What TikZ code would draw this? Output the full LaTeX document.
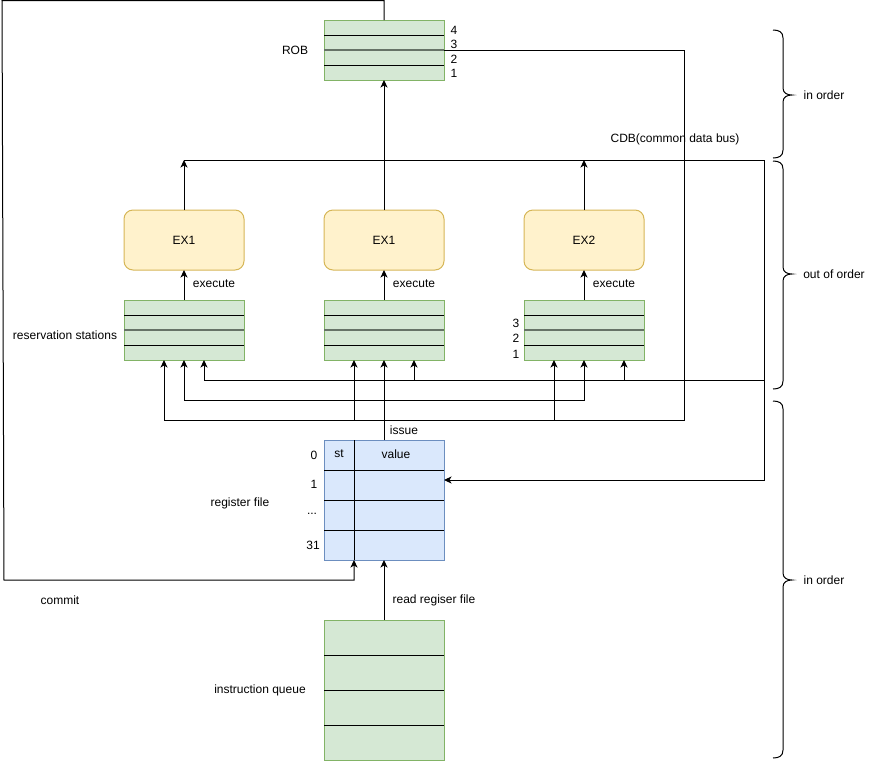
\documentclass[tikz,border=0pt]{standalone}
\usepackage{fontspec}
\setmainfont{Liberation Sans}
\usetikzlibrary{arrows.meta}

\definecolor{qfill}{HTML}{D5E8D4}
\definecolor{qline}{HTML}{82B366}
\definecolor{ufill}{HTML}{FFF2CC}
\definecolor{uline}{HTML}{D6B656}
\definecolor{rfill}{HTML}{DAE8FC}
\definecolor{rline}{HTML}{6C8EBF}
\definecolor{midline}{HTML}{667366}

% right-hand curly brace: top y, bottom y, tip y
\newcommand\sidebrace[3]{%
  \draw (773,#1) .. controls (779,#1) and (783,#1+2) .. (783,#1+8)
    -- (783,#3-7) .. controls (783,#3-2) and (787,#3) .. (792,#3)
    .. controls (787,#3) and (783,#3+2) .. (783,#3+7)
    -- (783,#2-8) .. controls (783,#2-2) and (779,#2) .. (773,#2);}

\tikzset{
  lbl/.style={font=\fontsize{12}{14}\selectfont, inner sep=0pt},
  queue/.style={draw=qline, fill=qfill, minimum width=120, minimum height=60,
    inner sep=0pt, outer sep=0pt},
  unit/.style={draw=uline, fill=ufill, rounded corners=9pt, minimum width=120,
    minimum height=60, inner sep=0pt, outer sep=0pt,
    font=\fontsize{12}{14}\selectfont},
  regbox/.style={draw=rline, fill=rfill, minimum width=120, minimum height=120,
    inner sep=0pt, outer sep=0pt},
  divider/.style={line width=1pt, black},
  middiv/.style={line width=2pt, midline},
  arr/.style={-{Stealth[length=7.5pt,width=7pt,inset=2pt]}},
}

\begin{document}
\begin{tikzpicture}[x=1pt,y=-1pt,line width=1pt]
\useasboundingbox (0,0) rectangle (875,761);

% ---- boxes ----
\node[queue] (rob) at (384,50) {};
\node[unit] (exa) at (184,240) {EX1};
\node[unit] (exb) at (384,240) {EX1};
\node[unit] (exc) at (584,240) {EX2};
\node[queue] (rsa) at (184,330) {};
\node[queue] (rsb) at (384,330) {};
\node[queue] (rsc) at (584,330) {};
\node[regbox] (reg) at (384,500) {};
\node[queue, minimum height=140] (iq) at (384,690) {};

% ---- row dividers ----
\draw[divider] (324,35) -- (444,35);
\draw[divider] (324,65) -- (444,65);
\draw[middiv] (324,50) -- (444,50);
\foreach \x in {124,324,524}{
  \draw[divider] (\x,315) -- ++(120,0);
  \draw[divider] (\x,345) -- ++(120,0);
  \draw[middiv] (\x,330) -- ++(120,0);
}
\foreach \y in {470,500,530} \draw[divider] (324,\y) -- (444,\y);
\draw[divider] (354,440) -- (354,560);
\foreach \y in {655,690,725} \draw[divider] (324,\y) -- (444,\y);

% ---- labels ----
\node[lbl] (lrob) at (295,50) {ROB};
\node[lbl] (lr4) at (454,30) {4};
\node[lbl] (lr3) at (454,44) {3};
\node[lbl] (lr2) at (454,59) {2};
\node[lbl] (lr1) at (454,73) {1};
\node[lbl] (lcdb) at (675,139) {CDB(common data bus)};
\node[lbl] (lexa) at (214,284) {execute};
\node[lbl] (lexb) at (414,284) {execute};
\node[lbl] (lexc) at (614,284) {execute};
\node[lbl] (lrs) at (65,335) {reservation stations};
\node[lbl] (ls3) at (516,323) {3};
\node[lbl] (ls2) at (516,338) {2};
\node[lbl] (ls1) at (516,354) {1};
\node[lbl] (lissue) at (404,430) {issue};
\node[lbl] (lst) at (339,454) {st};
\node[lbl] (lval) at (396,454) {value};
\node[lbl] (lg0) at (314,455) {0};
\node[lbl] (lg1) at (314,484) {1};
\node[lbl] (lgd) at (312,514) {...};
\node[lbl] (lg31) at (313,545) {31};
\node[lbl] (lreg) at (240,503) {register file};
\node[lbl] (lcommit) at (60,600) {commit};
\node[lbl] (lread) at (434,600) {read regiser file};
\node[lbl] (liq) at (260,690) {instruction queue};
\node[lbl] (lin1) at (824,95) {in order};
\node[lbl] (lout) at (834,274) {out of order};
\node[lbl] (lin2) at (824,580) {in order};

% ---- coordinates ----
\coordinate (busL) at (184,160);
\coordinate (busC) at (584,160);
\coordinate (busR) at (764,160);
\coordinate (wbR) at (764,380);
\coordinate (isJ) at (384,400);
\coordinate (robR) at (684,420);
\coordinate (robJb) at (354,420);
\coordinate (robJc) at (554,420);
\coordinate (wbB) at (414,380);
\coordinate (wbC) at (624,380);
\coordinate (cmTop) at (2,0.5);
\coordinate (cmBot) at (4,580);

% ---- connectors ----
% execute
\draw[arr] (rsa.north) -- (exa.south);
\draw[arr] (rsb.north) -- (exb.south);
\draw[arr] (rsc.north) -- (exc.south);
% common data bus
\draw[arr] (exa.north) -- (busL);
\draw[arr] (exc.north) -- (busC);
\draw[arr] (exb.north) -- (rob.south);
\draw (busL) -- (busR);
\draw[arr] (busR) |- ([yshift=20pt]reg.east);
\draw[arr] (wbR) -| ([xshift=20pt]rsa.south);
\draw[arr] (wbB) -- ([xshift=30pt]rsb.south);
\draw[arr] (wbC) -- ([xshift=40pt]rsc.south);
% issue
\draw[arr] (reg.north) -- (rsb.south);
\draw[arr] (isJ) -| (rsa.south);
\draw[arr] (isJ) -| (rsc.south);
% ROB entry tags
\draw[arr] (rob.east) -| (robR) -| ([xshift=-20pt]rsa.south);
\draw[arr] (robJb) -- ([xshift=-30pt]rsb.south);
\draw[arr] (robJc) -- ([xshift=-30pt]rsc.south);
% commit
\draw[arr] (rob.north) |- (cmTop) -- (cmBot) -| ([xshift=-30pt]reg.south);
% read register file
\draw[arr] (iq.north) -- (reg.south);

% ---- braces ----
\sidebrace{30}{158}{95}
\sidebrace{161}{389}{274}
\sidebrace{401}{758}{580}
\end{tikzpicture}
\end{document}
